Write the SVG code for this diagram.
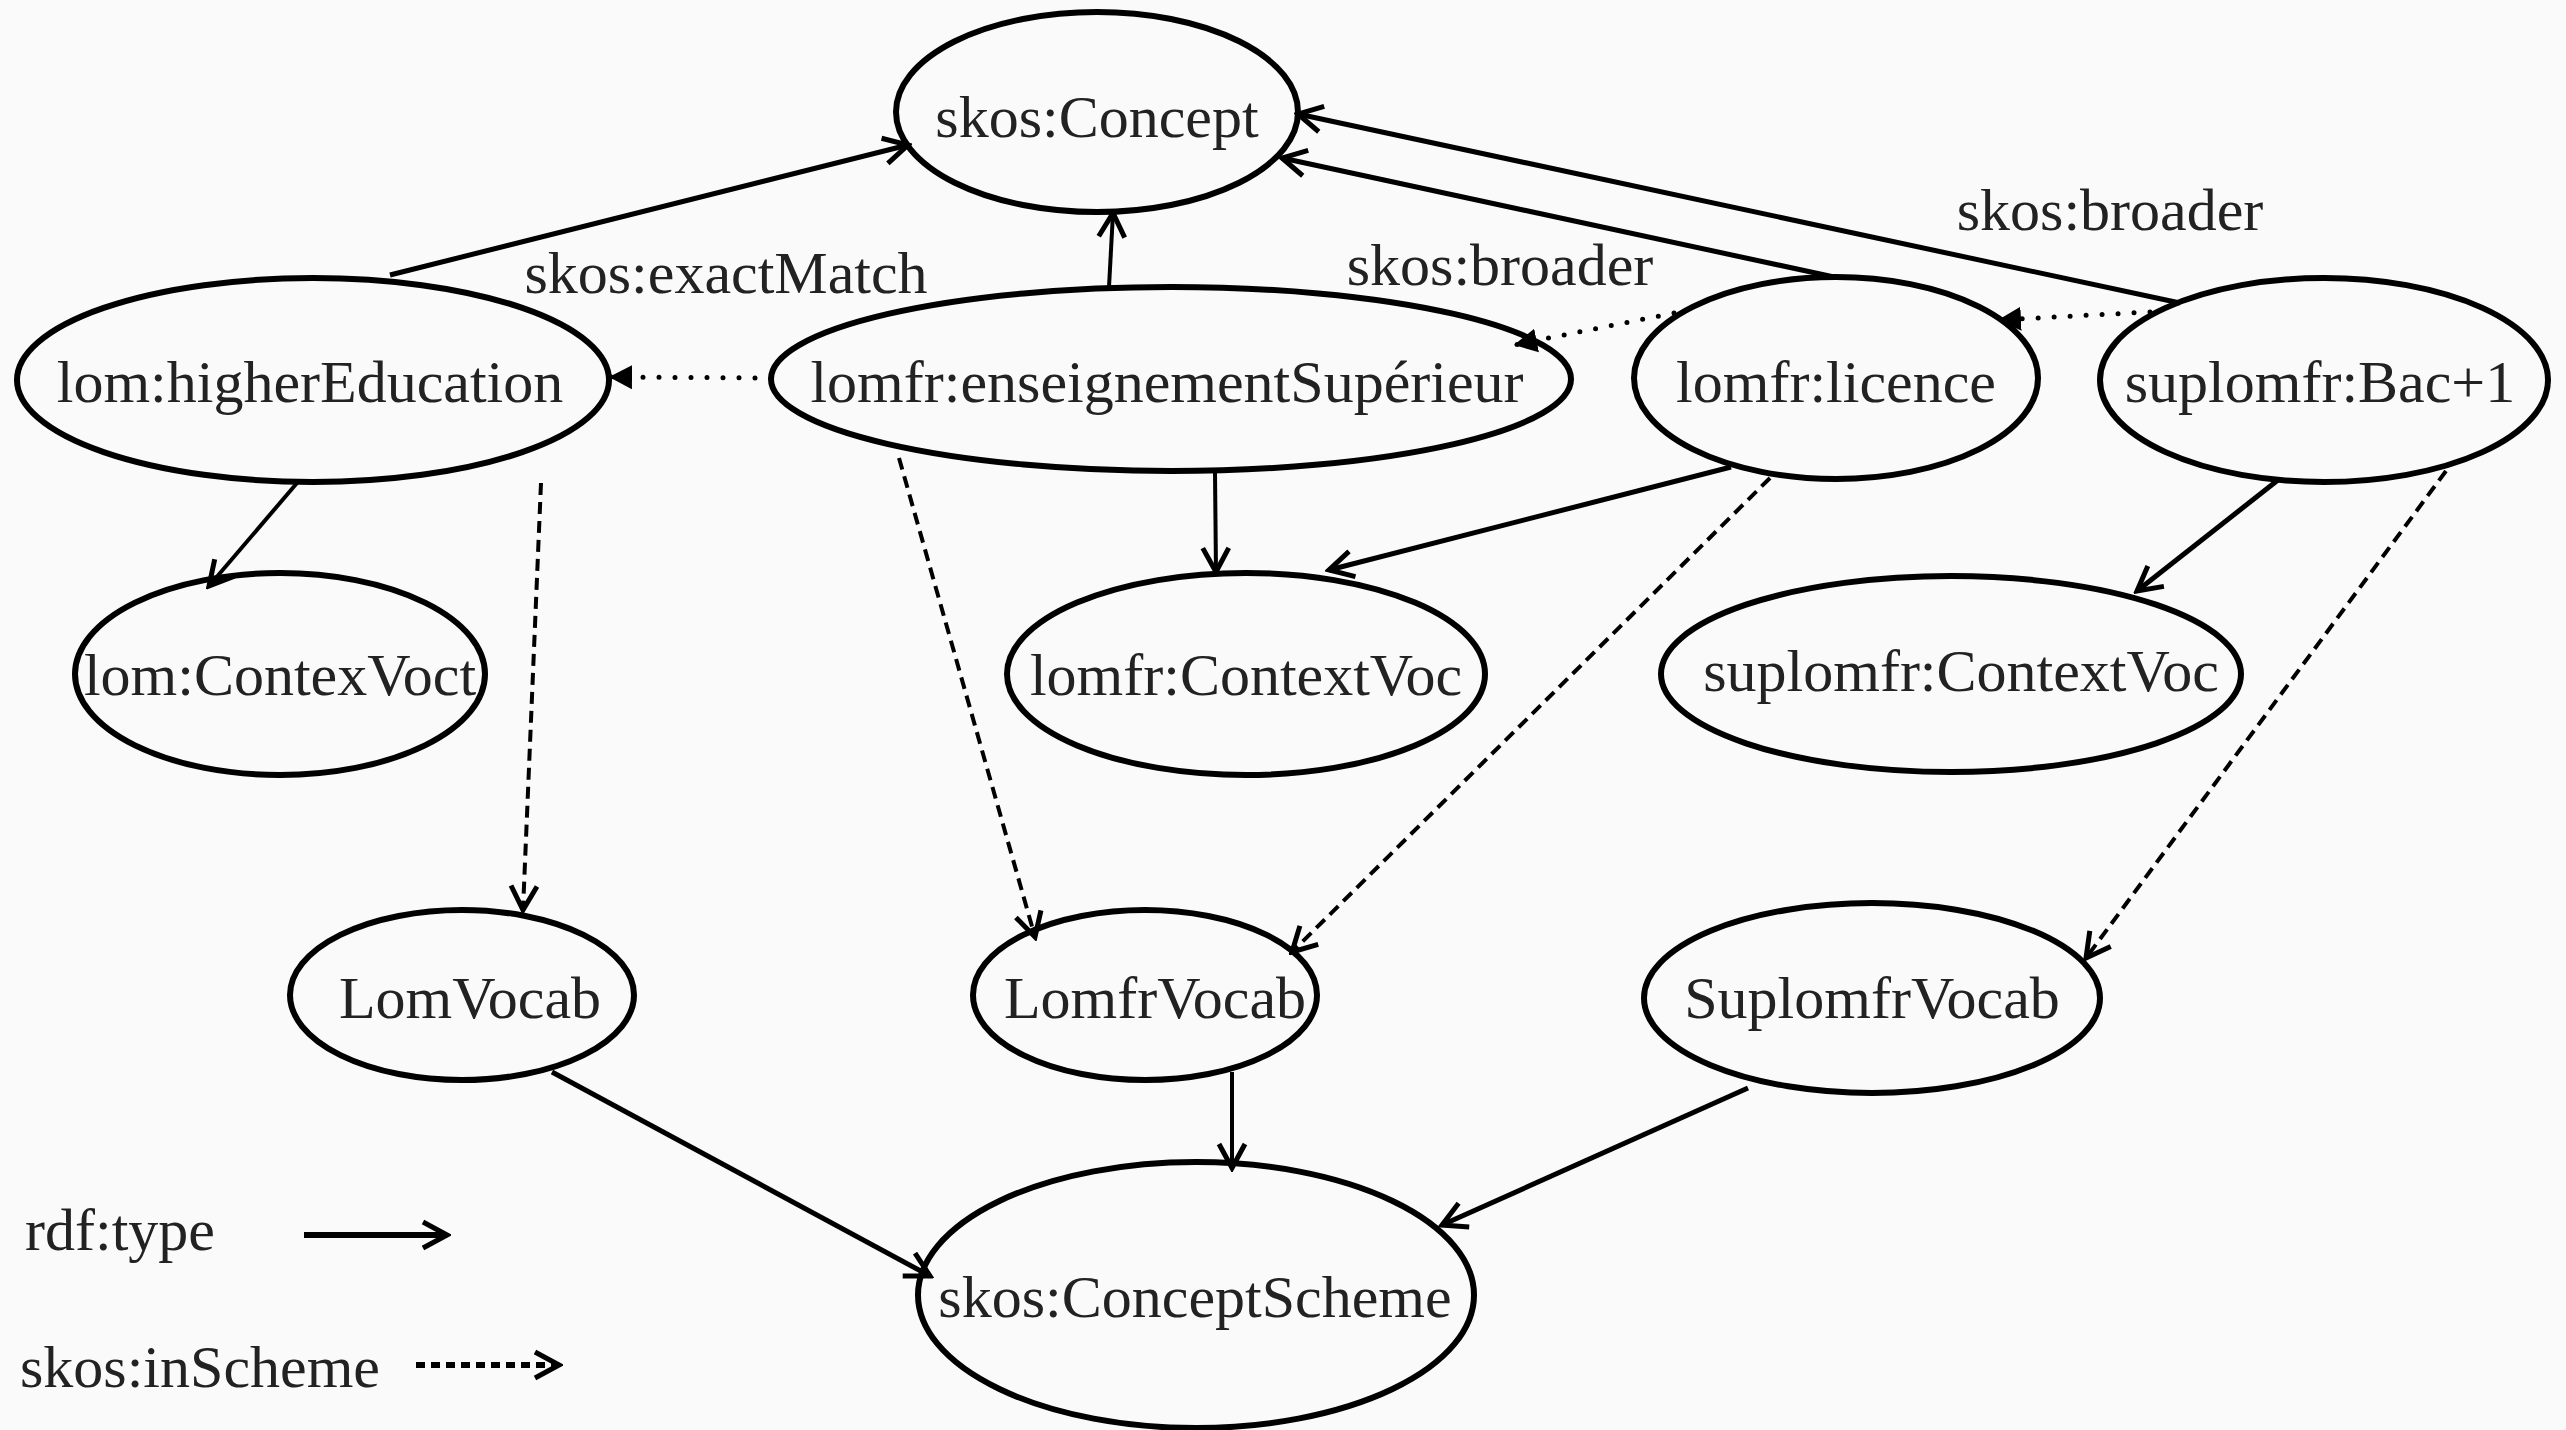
<svg xmlns="http://www.w3.org/2000/svg" width="2566" height="1430" viewBox="0 0 2566 1430">
<style>
.n ellipse{fill:none;stroke:#000;stroke-width:6}
text{font-family:"Liberation Serif","Times New Roman",serif;font-size:60px;fill:#222}
.n text{text-anchor:middle}
.s{fill:none;stroke:#000;stroke-width:5}
.t{fill:none;stroke:#000;stroke-width:4}
.d{fill:none;stroke:#000;stroke-width:4;stroke-dasharray:12 7}
.o{fill:none;stroke:#000;stroke-width:5;stroke-linecap:round;stroke-dasharray:0 16}
</style>
<defs>
<marker id="open" viewBox="-4 -16 32 32" markerWidth="32" markerHeight="32" refX="24" refY="0" orient="auto" markerUnits="userSpaceOnUse"><path d="M0,-13 L24,0 L0,13" fill="none" stroke="#000" stroke-width="5"/></marker>
<marker id="tri" viewBox="0 -13 24 26" markerWidth="24" markerHeight="26" refX="23" refY="0" orient="auto" markerUnits="userSpaceOnUse"><path d="M0,-12 L23,0 L0,12 Z" fill="#000"/></marker>
</defs>
<rect width="2566" height="1430" fill="#fafafa"/>
<g id="connectors">
<line class="s" x1="390" y1="275" x2="908" y2="145" marker-end="url(#open)"/>
<line class="t" x1="1109" y1="287" x2="1113" y2="213" marker-end="url(#open)"/>
<line class="s" x1="1834" y1="277" x2="1282" y2="158" marker-end="url(#open)"/>
<line class="s" x1="2180" y1="303" x2="1298" y2="114" marker-end="url(#open)"/>
<line class="o" x1="771" y1="378" x2="609" y2="377" marker-end="url(#tri)"/>
<line class="o" x1="1674" y1="313" x2="1514" y2="345" marker-end="url(#tri)"/>
<line class="o" x1="2150" y1="312" x2="1998" y2="320" marker-end="url(#tri)"/>
<line class="t" x1="297" y1="483" x2="209" y2="586" marker-end="url(#open)"/>
<line class="d" x1="541" y1="483" x2="523" y2="910" marker-end="url(#open)"/>
<line class="d" x1="899" y1="458" x2="1035" y2="937" marker-end="url(#open)"/>
<line class="t" x1="1215" y1="473" x2="1216" y2="572" marker-end="url(#open)"/>
<line class="s" x1="1731" y1="467" x2="1329" y2="570" marker-end="url(#open)"/>
<line class="d" x1="1770" y1="478" x2="1292" y2="952" marker-end="url(#open)"/>
<line class="s" x1="2278" y1="480" x2="2137" y2="591" marker-end="url(#open)"/>
<line class="d" x1="2446" y1="471" x2="2086" y2="958" marker-end="url(#open)"/>
<line class="s" x1="552" y1="1072" x2="930" y2="1276" marker-end="url(#open)"/>
<line class="t" x1="1232" y1="1072" x2="1232" y2="1168" marker-end="url(#open)"/>
<line class="s" x1="1748" y1="1088" x2="1442" y2="1225" marker-end="url(#open)"/>
</g>
<g id="edge-labels">
<text x="726" y="293" text-anchor="middle">skos:exactMatch</text>
<text x="1500" y="285" text-anchor="middle">skos:broader</text>
<text x="2110" y="230" text-anchor="middle">skos:broader</text>
</g>
<g id="skosConcept" class="n"><ellipse cx="1097" cy="112" rx="201" ry="100"/><text x="1097" y="137">skos:Concept</text></g>
<g id="lomHigherEducation" class="n"><ellipse cx="313" cy="380" rx="296" ry="102"/><text x="310" y="402">lom:higherEducation</text></g>
<g id="lomfrEnseignementSuperieur" class="n"><ellipse cx="1171" cy="379" rx="400" ry="92"/><text x="1167" y="402">lomfr:enseignementSupérieur</text></g>
<g id="lomfrLicence" class="n"><ellipse cx="1836" cy="378" rx="202" ry="101"/><text x="1836" y="402">lomfr:licence</text></g>
<g id="suplomfrBac1" class="n"><ellipse cx="2324" cy="380" rx="224" ry="102"/><text x="2320" y="402">suplomfr:Bac+1</text></g>
<g id="lomContexVoct" class="n"><ellipse cx="280" cy="674" rx="205" ry="101"/><text x="280" y="695">lom:ContexVoct</text></g>
<g id="lomfrContextVoc" class="n"><ellipse cx="1246" cy="674" rx="239" ry="101"/><text x="1246" y="695">lomfr:ContextVoc</text></g>
<g id="suplomfrContextVoc" class="n"><ellipse cx="1951" cy="674" rx="290" ry="98"/><text x="1961" y="691">suplomfr:ContextVoc</text></g>
<g id="LomVocab" class="n"><ellipse cx="462" cy="995" rx="172" ry="85"/><text x="470" y="1018">LomVocab</text></g>
<g id="LomfrVocab" class="n"><ellipse cx="1145" cy="995" rx="172" ry="85"/><text x="1155" y="1018">LomfrVocab</text></g>
<g id="SuplomfrVocab" class="n"><ellipse cx="1872" cy="998" rx="228" ry="95"/><text x="1872" y="1018">SuplomfrVocab</text></g>
<g id="skosConceptScheme" class="n"><ellipse cx="1196" cy="1295" rx="278" ry="133"/><text x="1195" y="1317">skos:ConceptScheme</text></g>
<g id="legend">
<text x="25" y="1250">rdf:type</text>
<line x1="304" y1="1235" x2="447" y2="1235" stroke="#000" stroke-width="6" marker-end="url(#open)"/>
<text x="20" y="1387">skos:inScheme</text>
<line x1="416" y1="1365" x2="559" y2="1365" stroke="#000" stroke-width="6" stroke-dasharray="9 6" marker-end="url(#open)"/>
</g>
</svg>
